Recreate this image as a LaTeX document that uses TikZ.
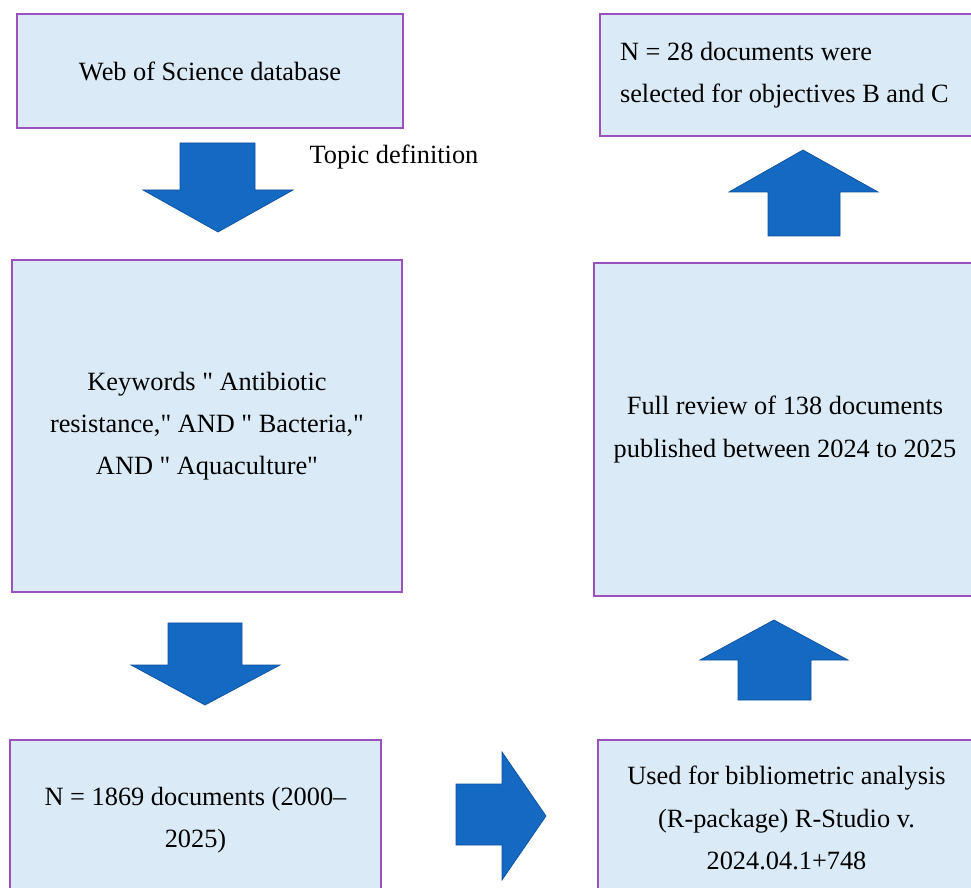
\documentclass[tikz,border=0pt]{standalone}
\usepackage{fontspec}
\setmainfont{Liberation Serif}
\usetikzlibrary{positioning}

\definecolor{boxfill}{RGB}{218,235,247}
\definecolor{boxline}{RGB}{155,80,190}
\definecolor{arrowblue}{RGB}{20,105,195}
\definecolor{arrowedge}{RGB}{15,80,160}

\newcommand{\dq}{\textquotedbl}

\begin{document}
\begin{tikzpicture}[
  x=0.02cm, y=-0.02cm,
  box/.style={draw=boxline, fill=boxfill, line width=0.8pt, align=center,
              font=\fontsize{15}{24}\selectfont, inner sep=0pt},
  lbl/.style={font=\fontsize{15}{24}\selectfont},
  blk/.style={fill=arrowblue, draw=arrowedge, line width=0.4pt}
]
% Pixel grid of the page (y runs downwards); the two right boxes and the
% bottom row run past the page edge, so the picture is clipped to it.
\clip (0,0) rectangle (971,888);

\node[box, minimum width=386*0.02cm, minimum height=114*0.02cm] (wos)
  at (210,71) {Web of Science database};
\node[box, minimum width=390*0.02cm, minimum height=332*0.02cm] (kw)
  at (207,426) {Keywords \dq{} Antibiotic\\resistance,\dq{} AND \dq{} Bacteria,\dq\\AND \dq{} Aquaculture\dq};
\node[box, minimum width=371*0.02cm, minimum height=160*0.02cm] (ndocs)
  at (195.5,820) {N = 1869 documents (2000--\\2025)};
\node[box, minimum width=377*0.02cm, minimum height=156*0.02cm] (biblio)
  at (786.5,818) {Used for bibliometric analysis\\(R-package) R-Studio v.\\2024.04.1+748};
\node[box, minimum width=382*0.02cm, minimum height=333*0.02cm] (review)
  at (785,429.5) {Full review of 138 documents\\published between 2024 to 2025};
\node[box, minimum width=396*0.02cm, minimum height=122*0.02cm, align=flush left,
      text width=356*0.02cm] (select)
  at (798,75) {N = 28 documents were\\selected for objectives B and C\\[-8pt]};

\node[lbl] (topic) at (394,157) {Topic definition};

% block arrows
\draw[blk] (180,143) -- (255,143) -- (255,190) -- (293,190) -- (218,232)
  -- (143,190) -- (180,190) -- cycle;
\draw[blk] (168,623) -- (242,623) -- (242,665) -- (280,665) -- (205,705)
  -- (131,665) -- (168,665) -- cycle;
\draw[blk] (456,784) -- (502,784) -- (502,752) -- (546,816) -- (502,880)
  -- (502,845) -- (456,845) -- cycle;
\draw[blk] (738,700) -- (811,700) -- (811,660) -- (848,660) -- (774,620)
  -- (700,660) -- (738,660) -- cycle;
\draw[blk] (768,236) -- (840,236) -- (840,192) -- (878,192) -- (803,150)
  -- (729,192) -- (768,192) -- cycle;
\end{tikzpicture}
\end{document}
